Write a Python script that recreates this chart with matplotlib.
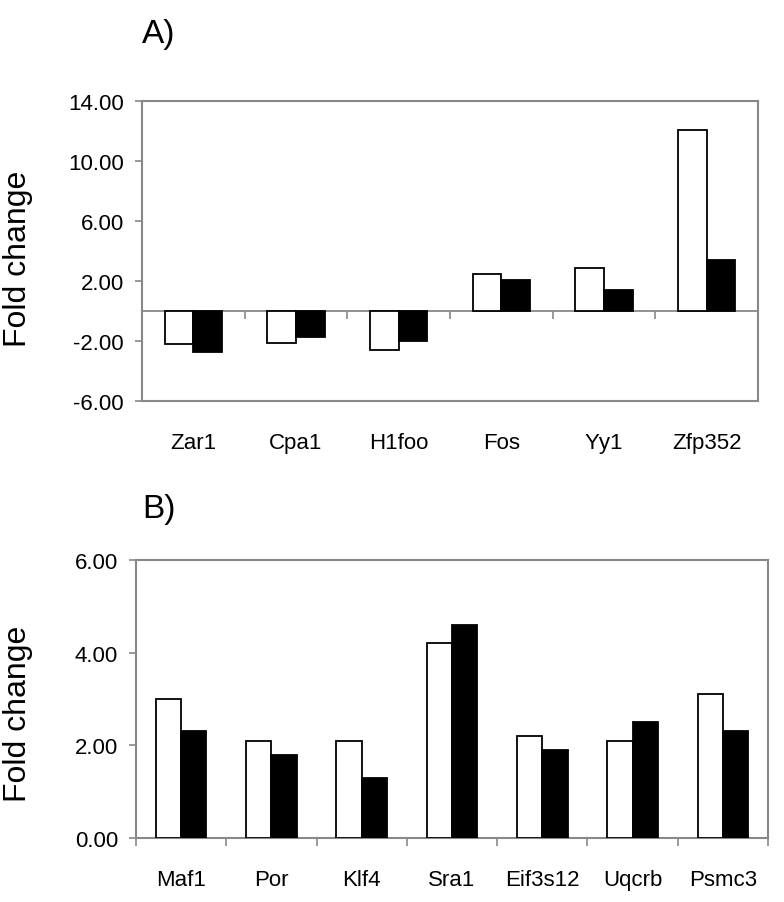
import numpy as np
import matplotlib
matplotlib.use('Agg')
import matplotlib.pyplot as plt

plt.rcParams['font.family'] = ['Liberation Sans', 'DejaVu Sans']

# Panel A data
genes_a = ['Zar1', 'Cpa1', 'H1foo', 'Fos', 'Yy1', 'Zfp352']
white_a = [-2.2, -2.1, -2.6, 2.45, 2.85, 12.1]
black_a = [-2.75, -1.7, -2.0, 2.1, 1.4, 3.4]
yticks_a = [14, 10, 6, 2, -2, -6]

# Panel B data
genes_b = ['Maf1', 'Por', 'Klf4', 'Sra1', 'Eif3s12', 'Uqcrb', 'Psmc3']
white_b = [3.0, 2.1, 2.1, 4.2, 2.2, 2.1, 3.1]
black_b = [2.3, 1.8, 1.3, 4.6, 1.9, 2.5, 2.3]
yticks_b = [0, 2, 4, 6]

frame_color = '#888888'
bar_w = 0.28


def draw_panel(ax, genes, white, black, yticks, ylim):
    x = np.arange(len(genes))
    ax.bar(x - bar_w / 2, white, bar_w, color='white', edgecolor='black', linewidth=1.3, zorder=3)
    ax.bar(x + bar_w / 2, black, bar_w, color='black', edgecolor='black', linewidth=1.3, zorder=3)
    ax.set_xlim(-0.5, len(genes) - 0.5)
    ax.set_ylim(*ylim)
    ax.set_yticks(yticks)
    ax.set_yticklabels([f'{t:.2f}' for t in yticks], fontsize=16)
    ax.set_xticks(x)
    ax.set_xticklabels(genes, fontsize=16)
    ax.tick_params(axis='x', which='major', length=0, pad=22)
    ax.tick_params(axis='y', direction='out', length=5, width=1.2, color=frame_color, pad=8)
    for s in ax.spines.values():
        s.set_color(frame_color)
        s.set_linewidth(1.5)
    ax.set_ylabel('Fold change', fontsize=23)


fig = plt.figure(figsize=(7.84, 9.03), dpi=100)

ax1 = fig.add_axes([0.1811, 0.5548, 0.7857, 0.3322])
draw_panel(ax1, genes_a, white_a, black_a, yticks_a, (-6, 14))
# zero line with category separators
ax1.axhline(0, color=frame_color, linewidth=1.3, zorder=2)
ax1.vlines(np.arange(0.5, len(genes_a) - 0.5), -0.55, 0, color=frame_color, linewidth=1.2, zorder=2)
ax1.yaxis.set_label_coords(-0.177, 0.477)
fig.text(0.181, 0.952, 'A)', fontsize=24, va='baseline', ha='left')

ax2 = fig.add_axes([0.1735, 0.0709, 0.8061, 0.3079])
draw_panel(ax2, genes_b, white_b, black_b, yticks_b, (0, 6))
ax2.set_xticks(np.arange(-0.5, len(genes_b)), minor=True)
ax2.tick_params(axis='x', which='minor', direction='out', length=6, width=1.2, color=frame_color)
ax2.yaxis.set_label_coords(-0.163, 0.45)
fig.text(0.181, 0.4264, 'B)', fontsize=24, va='baseline', ha='left')

plt.savefig('out.png', dpi=100)
plt.close()
